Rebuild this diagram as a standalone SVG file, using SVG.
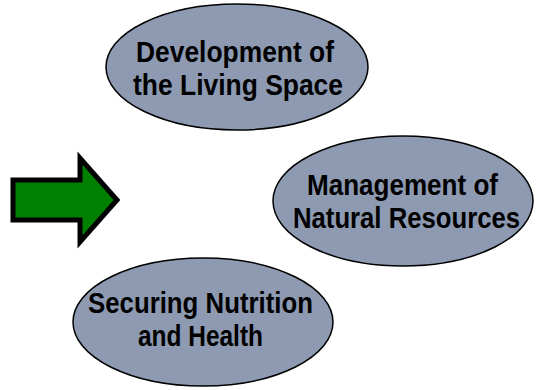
<svg xmlns="http://www.w3.org/2000/svg" width="539" height="390" viewBox="0 0 539 390">
<style>
.node ellipse{fill:#8d9ab1;stroke:#000;stroke-width:1.5}
.node text{font-family:"Liberation Sans",Arial,sans-serif;font-weight:bold;font-size:30px;fill:#000}
</style>
<rect width="539" height="390" fill="#fff"/>
<g id="arrow">
<polygon points="13,180 80,180 80,158 117,200 80,242 80,220 13,220" fill="#008000" stroke="#000" stroke-width="5" stroke-linejoin="miter"/>
</g>
<g id="node-living" class="node">
<ellipse cx="237" cy="67" rx="131" ry="63"/>
<text x="136" y="62" textLength="198" lengthAdjust="spacingAndGlyphs">Development of</text>
<text x="133" y="95" textLength="210" lengthAdjust="spacingAndGlyphs">the Living Space</text>
</g>
<g id="node-resources" class="node">
<ellipse cx="403" cy="201" rx="130" ry="65"/>
<text x="307" y="195" textLength="191" lengthAdjust="spacingAndGlyphs">Management of</text>
<text x="293" y="228" textLength="227" lengthAdjust="spacingAndGlyphs">Natural Resources</text>
</g>
<g id="node-nutrition" class="node">
<ellipse cx="203" cy="322" rx="130" ry="64"/>
<text x="88" y="313" textLength="225" lengthAdjust="spacingAndGlyphs">Securing Nutrition</text>
<text x="138" y="346" textLength="125" lengthAdjust="spacingAndGlyphs">and Health</text>
</g>
<g id="connectors"></g>
</svg>
